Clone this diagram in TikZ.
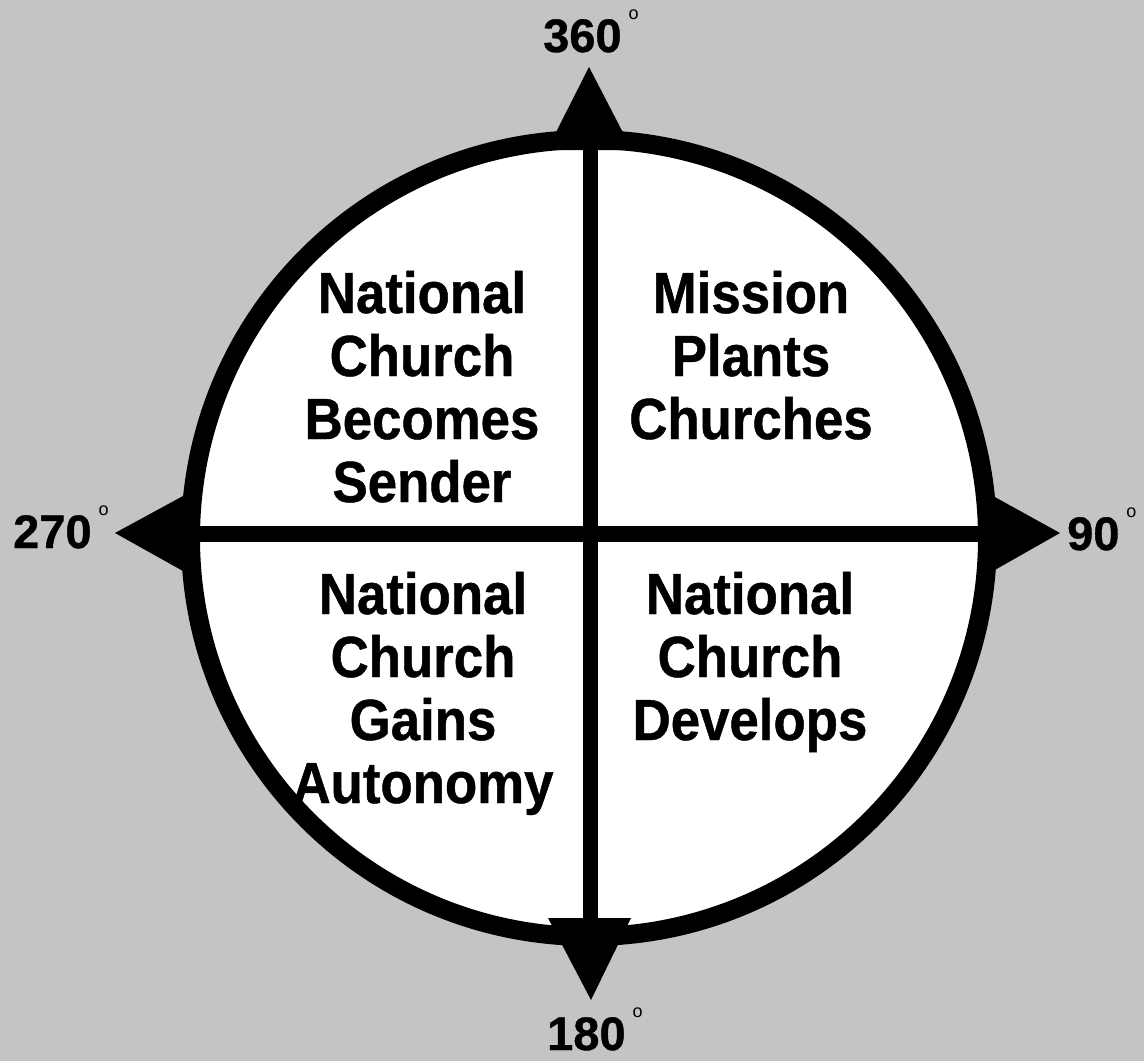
\documentclass[tikz,border=0pt]{standalone}
\usepackage{fontspec}
\setmainfont{Liberation Sans}
\newfontfamily\quadfont[FakeStretch=0.91,FakeBold=0.8]{Liberation Sans Bold}
\newfontfamily\degfont[FakeBold=0.8]{Liberation Sans Bold}
\definecolor{bggray}{RGB}{196,196,196}
\tikzset{
  quadtext/.style={anchor=base, inner sep=0pt, font=\quadfont\fontsize{58}{63}\selectfont},
  deglabel/.style={anchor=base west, inner sep=0pt, font=\degfont\fontsize{47}{50}\selectfont},
  axisline/.style={line width=15pt, black},
  head/.style={fill=black, draw=none}
}
\newcommand{\degmark}{\hspace{7pt}\raisebox{33pt}{\normalfont\fontsize{18}{18}\selectfont o}}
\begin{document}
\begin{tikzpicture}[x=1pt,y=-1pt]
\fill[bggray] (0,0) rectangle (1144,1061);
\useasboundingbox (0,0) rectangle (1144,1061);
% circle
\node[circle, draw=black, line width=19pt, fill=white, minimum size=797pt, inner sep=0pt] (wheel) at (589,538) {};
% axes
\coordinate (top) at (590,150);
\coordinate (bot) at (590,918);
\coordinate (lft) at (183,534);
\coordinate (rgt) at (993,534);
\draw[axisline] (top) -- (bot);
\draw[axisline, line width=16pt] (lft) -- (rgt);
% arrowheads
\fill[head] (547,150) -- (589,67) -- (632,150) -- cycle;
\fill[head] (548,918) -- (591,1000) -- (631,918) -- cycle;
\fill[head] (183,496) -- (115,533) -- (183,571) -- cycle;
\fill[head] (993,496) -- (1060,533) -- (993,571) -- cycle;
% degree labels
\node[deglabel] (d360) at (543,52) {360\degmark};
\node[deglabel] (d270) at (13,548) {270\degmark};
\node[deglabel] (d90) at (1067,550) {90\degmark};
\node[deglabel] (d180) at (547,1050) {180\degmark};
% quadrant texts
\node[quadtext] (ul) at (422,313) {\begin{tabular}[t]{@{}c@{}}National\\Church\\Becomes\\Sender\end{tabular}};
\node[quadtext] (ur) at (751,313) {\begin{tabular}[t]{@{}c@{}}Mission\\Plants\\Churches\end{tabular}};
\node[quadtext] (ll) at (423,614) {\begin{tabular}[t]{@{}c@{}}National\\Church\\Gains\\Autonomy\end{tabular}};
\node[quadtext] (lr) at (750,614) {\begin{tabular}[t]{@{}c@{}}National\\Church\\Develops\end{tabular}};
\end{tikzpicture}
\end{document}
